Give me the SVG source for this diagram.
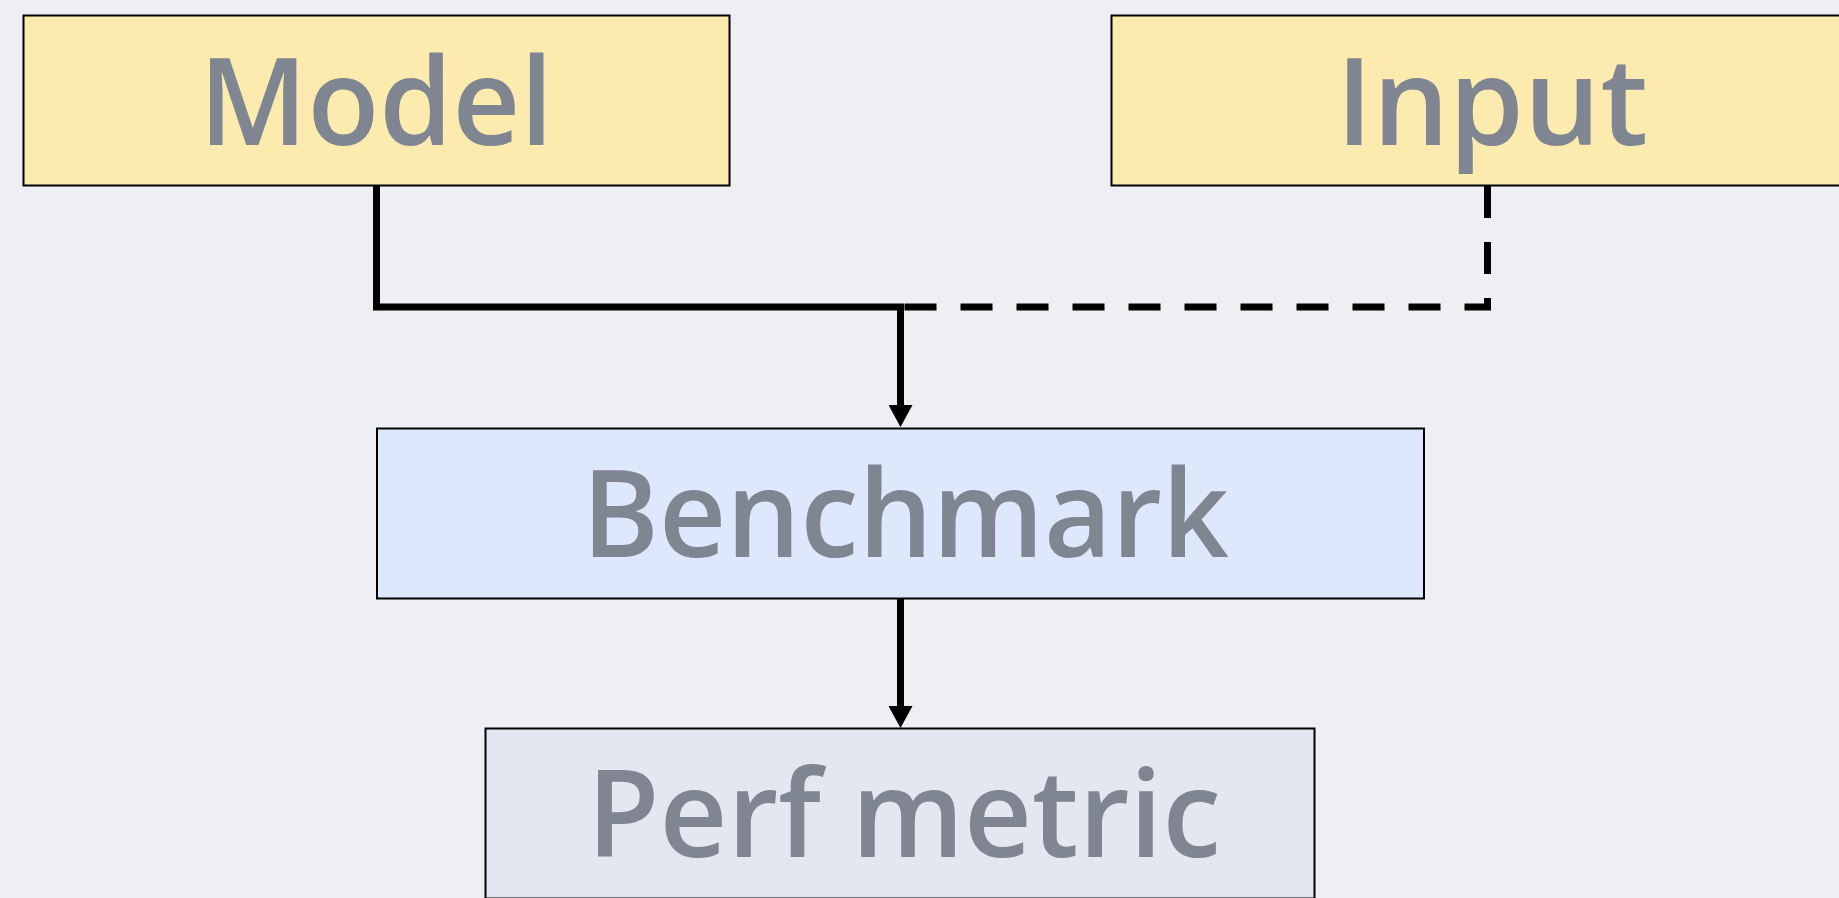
<svg xmlns="http://www.w3.org/2000/svg" width="1839" height="898" viewBox="0 0 1839 898">
<style>
.box{stroke:#000;stroke-width:2}
.lbl{font-family:"Open Sans","Noto Sans",sans-serif;font-weight:600;font-size:122px;fill:#7f8591;text-anchor:middle}
.conn{fill:none;stroke:#000;stroke-width:7;stroke-linejoin:miter}
.dash{stroke-dasharray:32 24}
</style>
<defs>
<marker id="arrow" viewBox="0 -12 22 24" refX="0" refY="0" markerWidth="22" markerHeight="24" markerUnits="userSpaceOnUse" orient="auto">
<path d="M0,-12 L22,0 L0,12 z" fill="#000"/>
</marker>
</defs>
<rect width="1839" height="898" fill="#edeff3"/>
<g id="connectors">
<path class="conn dash" d="M1487.5,186 V307 H900.5"/>
<path class="conn" d="M376.5,186 V307 H900.5 V405" marker-end="url(#arrow)"/>
<path class="conn" d="M900.5,599 V706" marker-end="url(#arrow)"/>
</g>
<g id="model">
<rect class="box" x="23.5" y="15.5" width="706" height="170" fill="#fcebae"/>
<text class="lbl" x="376" y="145" textLength="354" lengthAdjust="spacingAndGlyphs">Model</text>
</g>
<g id="input">
<rect class="box" x="1111.5" y="15.5" width="760" height="170" fill="#fcebae"/>
<text class="lbl" x="1492" y="145" textLength="312" lengthAdjust="spacingAndGlyphs">Input</text>
</g>
<g id="benchmark">
<rect class="box" x="377" y="428.5" width="1047" height="170" fill="#dee8fd"/>
<text class="lbl" x="905.5" y="557" textLength="647" lengthAdjust="spacingAndGlyphs">Benchmark</text>
</g>
<g id="perf-metric">
<rect class="box" x="485.5" y="728.5" width="829" height="170" fill="#e2e7f2"/>
<text class="lbl" x="904" y="857" textLength="634" lengthAdjust="spacingAndGlyphs">Perf metric</text>
</g>
</svg>
